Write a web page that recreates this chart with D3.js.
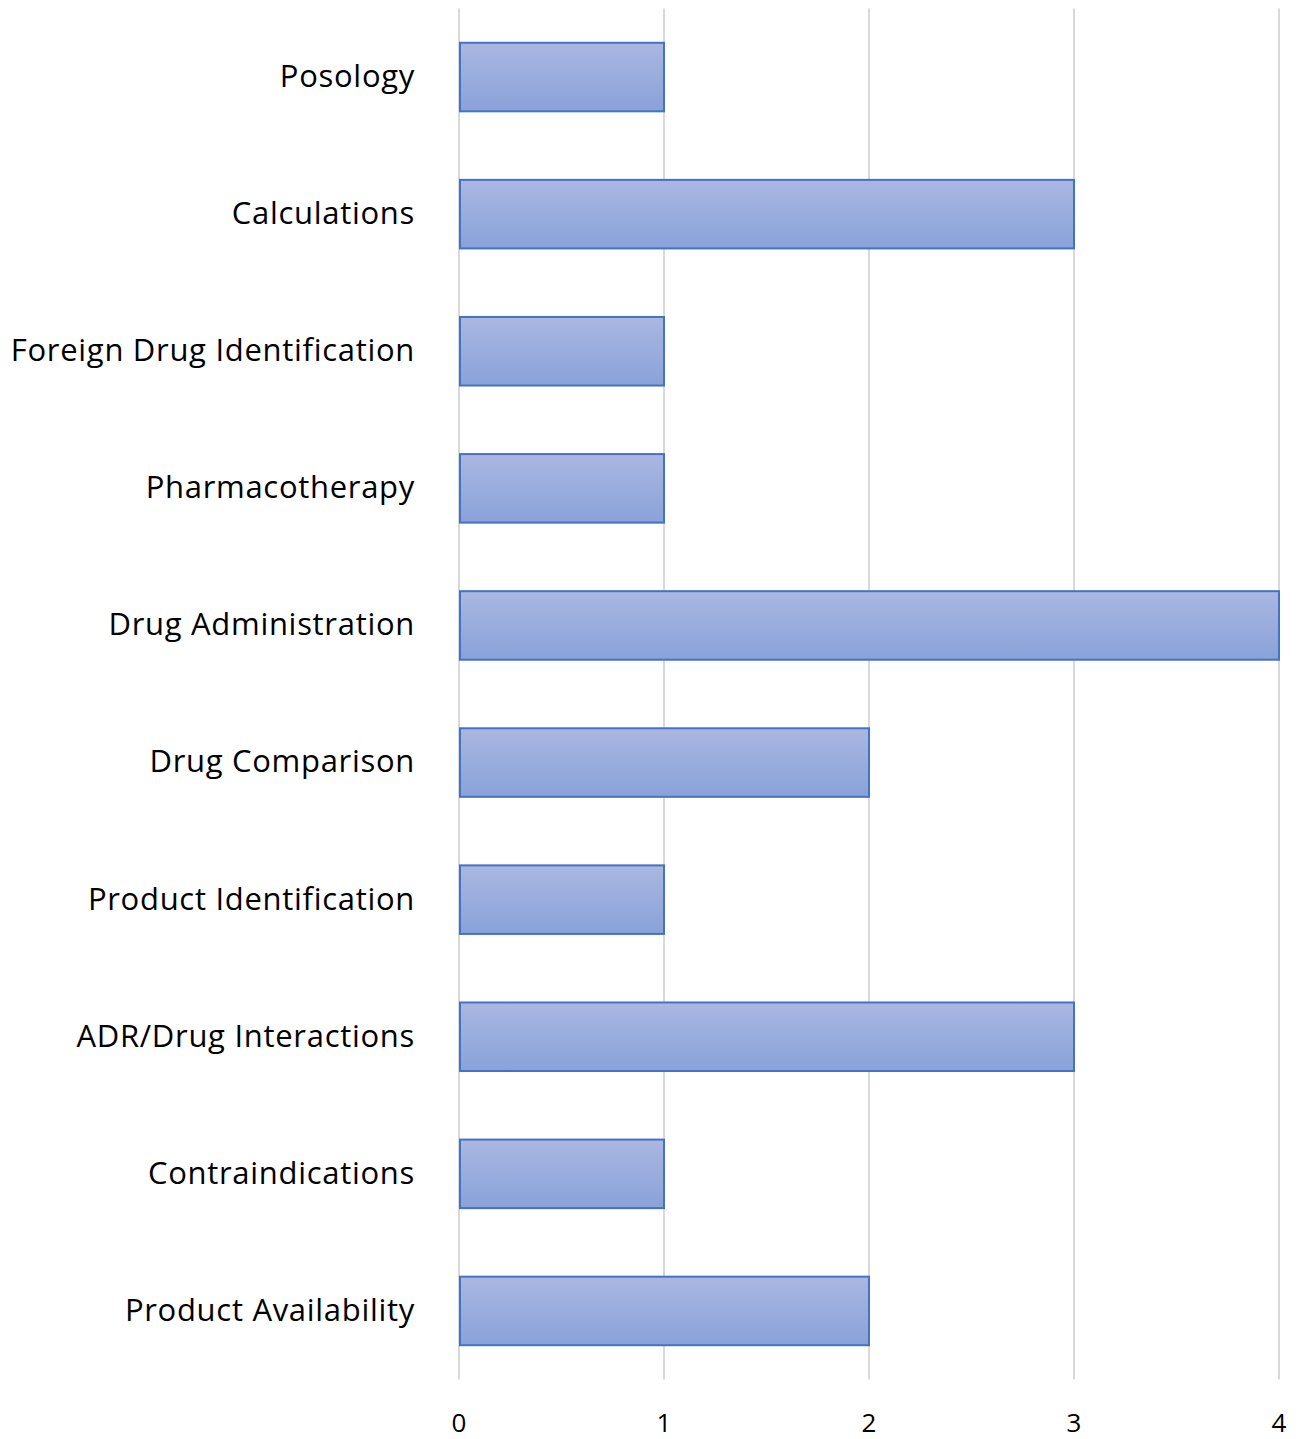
<!DOCTYPE html>
<html><head><meta charset="utf-8">
<script src="https://cdn.jsdelivr.net/npm/d3@7"></script>
<style>body{margin:0;background:#fff}svg{display:block}</style>
</head><body>
<script>
const categories = ["Posology","Calculations","Foreign Drug Identification","Pharmacotherapy","Drug Administration","Drug Comparison","Product Identification","ADR/Drug Interactions","Contraindications","Product Availability"];
const values = [1,3,1,1,4,2,1,3,1,2];
const ticks = [0,1,2,3,4];

const W=1300,H=1439;
const m={left:459,right:21,top:8.5,bottom:59.5};
const svg=d3.select("body").append("svg").attr("width",W).attr("height",H);
const defs=svg.append("defs");
const g=defs.append("linearGradient").attr("id","bg").attr("x1",0).attr("y1",0).attr("x2",0).attr("y2",1);
g.append("stop").attr("offset","0%").attr("stop-color","#aab7e1");
g.append("stop").attr("offset","100%").attr("stop-color","#89a2d9");

const x=d3.scaleLinear().domain([0,4]).range([m.left,W-m.right]);
const y=d3.scaleBand().domain(categories).range([m.top,H-m.bottom]).paddingInner(0.5).paddingOuter(0.25);

svg.append("g").selectAll("line").data(ticks).join("line")
 .attr("x1",d=>x(d)).attr("x2",d=>x(d)).attr("y1",m.top).attr("y2",H-m.bottom)
 .attr("stroke","#d9d9d9").attr("stroke-width",2);

svg.append("g").selectAll("rect").data(categories).join("rect")
 .attr("x",x(0)+1).attr("y",d=>y(d)).attr("width",(d,i)=>x(values[i])-x(0)-1).attr("height",y.bandwidth())
 .attr("fill","url(#bg)").attr("stroke","#4472c4").attr("stroke-width",2);

svg.append("g").selectAll("text").data(categories).join("text")
 .attr("x",415).attr("y",d=>y(d)+y.bandwidth()/2).attr("dy","0.32em")
 .attr("text-anchor","end").attr("font-family","'Open Sans', sans-serif").attr("font-size",31)
 .attr("letter-spacing","0.7px").attr("fill","#000")
 .text(d=>d);

svg.append("g").selectAll("text").data(ticks).join("text")
 .attr("x",d=>x(d)).attr("y",1432).attr("text-anchor","middle")
 .attr("font-family","'Open Sans', sans-serif").attr("font-size",26).attr("fill","#000")
 .text(d=>d);
</script>
</body></html>
